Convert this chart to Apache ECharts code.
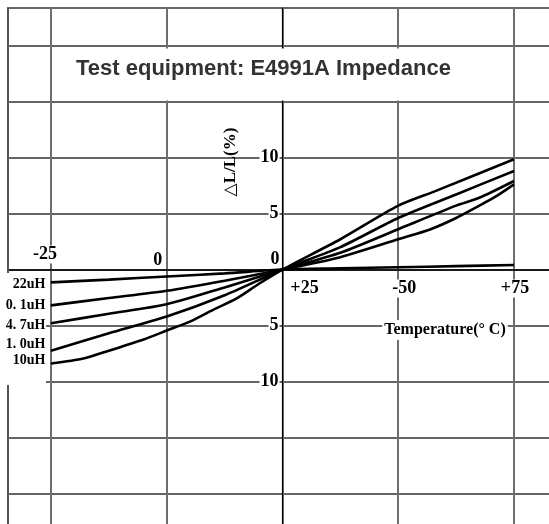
<!DOCTYPE html>
<html><head><meta charset="utf-8">
<script src="https://cdn.jsdelivr.net/npm/echarts@6/dist/echarts.min.js"></script>
<style>html,body{margin:0;padding:0;background:#fff}#c{width:549px;height:524px}</style>
</head><body><div id="c"></div>
<script>
// ---------- data ----------
const seriesNames = ['22uH', '0. 1uH', '4. 7uH', '1. 0uH', '10uH'];
const temps22uH  = [-25, -12.5, 0, 12.5, 25, 37.5, 50, 62.5, 75];
const values22uH = [-1.15, -0.9, -0.62, -0.35, 0, 0.1, 0.2, 0.3, 0.4];
const temps01uH  = [-25, -12.5, 0, 12.5, 25, 37.5, 50, 57, 62.5, 67.5, 71, 75];
const values01uH = [-3.2, -2.55, -1.9, -1.0, 0, 1.1, 2.7, 3.6, 4.6, 5.7, 6.5, 7.6];
const temps47uH  = [-25, -12.5, 0, 12.5, 25, 37.5, 50, 62.5, 67.5, 75];
const values47uH = [-4.8, -3.95, -3.1, -1.6, 0, 1.5, 3.6, 5.7, 6.4, 7.9];
const temps10uH1  = [-25, -12.5, 0, 12.5, 25, 37.5, 50, 62.5, 75];
const values10uH1 = [-7.25, -5.7, -4.2, -2.3, 0, 2.0, 4.6, 6.7, 8.8];
const temps10uH  = [-25, -18, -12.5, -5, 0, 5, 10, 15, 20, 25, 37.5, 50, 58, 75];
const values10uH = [-8.4, -7.95, -7.25, -6.25, -5.45, -4.65, -3.6, -2.6, -1.25, 0, 2.7, 5.7, 7.0, 9.85];
const xTickValues = [-25, 0, 25, 50, 75];
const xTickTexts  = ['-25', '0', '+25', '-50', '+75'];
const yTickValues = [10, 5, 0, -5, -10];
const yTickTexts  = ['10', '5', '0', '5', '10'];
const titleText = 'Test equipment: E4991A Impedance';
const yName = '△L/L(%)';
const xName = 'Temperature(° C)';

// ---------- layout / style ----------
const curveTemps  = [temps22uH, temps01uH, temps47uH, temps10uH1, temps10uH];
const curveValues = [values22uH, values01uH, values47uH, values10uH1, values10uH];
const nameLabelOffsets = [[0, 2], [0, 0], [0, 2], [0, -6], [0, -3]];
const xLabelShift = { '-25': [-6, -15, true], '0': [-9, -9, false], '25': [22, 19, false], '50': [6, 19, true], '75': [1, 19, true] };
const yLabelShift = { '0': [4, -10, false] };
const SERIF = "'Liberation Serif', 'DejaVu Serif', serif";
const labelFont = { fontFamily: SERIF, fontWeight: 'bold', fontSize: 18, color: '#000', lineHeight: 18 };

const rich = {
  t: Object.assign({ backgroundColor: '#fff', padding: [0, 1] }, labelFont),
  n: Object.assign({}, labelFont)
};
function spacerW(n) { const k = 'w' + n; if (!rich[k]) rich[k] = { width: n, height: 1, lineHeight: 1, fontSize: 1 }; return k; }
function spacerH(n) { const k = 'h' + n; if (!rich[k]) rich[k] = { width: 1, height: n, lineHeight: n, fontSize: 1 }; return k; }
function shifted(text, dx, dy, bg) {
  const st = bg ? 't' : 'n';
  let line = (dx > 0 ? '{' + spacerW(2 * dx) + '| }' : '') + '{' + st + '|' + text + '}' + (dx < 0 ? '{' + spacerW(-2 * dx) + '| }' : '');
  if (dy < 0) return line + '\n{' + spacerH(-2 * dy) + '| }';
  if (dy > 0) return '{' + spacerH(2 * dy) + '| }\n' + line;
  return line;
}
xTickValues.forEach((v) => { const s = xLabelShift[String(v)]; shifted('', s[0], s[1], s[2]); });
Object.keys(yLabelShift).forEach((k) => { const s = yLabelShift[k]; shifted('', s[0], s[1], s[2]); });

const chart = echarts.init(document.getElementById('c'), null, { renderer: 'canvas' });

const series = seriesNames.map((name, i) => {
  const data = curveTemps[i].map((t, j) => {
    if (j === 0) {
      return {
        value: [t, curveValues[i][j]],
        symbol: 'circle', symbolSize: 1,
        label: {
          show: true, position: 'left', distance: 5, formatter: name,
          offset: nameLabelOffsets[i],
          fontFamily: SERIF, fontWeight: 'bold', fontSize: 14, color: '#000'
        }
      };
    }
    return [t, curveValues[i][j]];
  });
  return {
    name: name, type: 'line', xAxisIndex: 0, yAxisIndex: 0, z: 2,
    symbol: 'none', smooth: 0.25, animation: false,
    lineStyle: { color: '#000', width: 2.6 },
    itemStyle: { color: '#000' },
    data: data
  };
});

const xScale = { type: 'value', min: -50, max: 83, interval: 25 };
const yScale = { type: 'value', min: -25, max: 23.348, interval: 5 };

const option = {
  backgroundColor: '#fff',
  animation: false,
  grid: { left: -64.75, right: -2.04, top: 8, bottom: -25.5, containLabel: false, outerBoundsMode: 'none' },
  xAxis: [
    Object.assign({ position: 'bottom', z: 0, axisLine: { show: false, onZero: false }, axisTick: { show: false }, axisLabel: { show: false },
      splitLine: { show: true, lineStyle: { color: '#6e6e6e', width: 2 } } }, xScale),
    Object.assign({ position: 'bottom', z: 3, offset: -280,
      axisLine: { show: true, onZero: false, lineStyle: { color: '#000', width: 1.5 } },
      axisTick: { show: false }, splitLine: { show: false },
      axisLabel: {
        show: true, margin: 0, align: 'center', verticalAlign: 'middle', showMinLabel: true, showMaxLabel: true,
        formatter: function (v) {
          const idx = xTickValues.indexOf(v);
          if (idx < 0) return '';
          const s = xLabelShift[String(v)];
          return shifted(xTickTexts[idx], s[0], s[1], s[2]);
        },
        rich: rich
      } }, xScale)
  ],
  yAxis: [
    Object.assign({ position: 'left', z: 0, axisLine: { show: false, onZero: false }, axisTick: { show: false }, axisLabel: { show: false },
      splitLine: { show: true, lineStyle: { color: '#333', width: 1.5 } } }, yScale),
    Object.assign({ position: 'left', z: 3, offset: -347.25,
      axisLine: { show: true, onZero: false, lineStyle: { color: '#000', width: 1.2 } },
      axisTick: { show: false }, splitLine: { show: false },
      axisLabel: {
        show: true, margin: 3,
        formatter: function (v) {
          const idx = yTickValues.indexOf(v);
          if (idx < 0) return '';
          const s = yLabelShift[String(v)];
          if (s) return shifted(yTickTexts[idx], s[0], s[1], s[2]);
          return '{t|' + yTickTexts[idx] + '}';
        },
        rich: rich
      } }, yScale)
  ],
  graphic: [
    { type: 'rect', z: 5, shape: { x: 0, y: 0, width: 7, height: 273 }, style: { fill: '#fff' } },
    { type: 'rect', z: 5, shape: { x: 0, y: 384, width: 7, height: 140 }, style: { fill: '#fff' } },
    { type: 'rect', z: 1, shape: { x: 0, y: 274, width: 46, height: 110 }, style: { fill: '#fff' } },
    { type: 'line', z: 5, shape: { x1: 8, y1: 8, x2: 8, y2: 273 }, style: { stroke: '#555', lineWidth: 2 } },
    { type: 'line', z: 5, shape: { x1: 8, y1: 385, x2: 8, y2: 524 }, style: { stroke: '#555', lineWidth: 2 } },
    { type: 'rect', z: 4, shape: { x: 52, y: 48.5, width: 461, height: 52 }, style: { fill: '#fff' } },
    { type: 'text', z: 6, x: 76, y: 69, style: { text: titleText, fill: '#333', font: "bold 22px 'Liberation Sans', Arial, sans-serif", textVerticalAlign: 'middle', textAlign: 'left' } },
    { type: 'text', z: 6, x: 231, y: 162, rotation: Math.PI / 2, style: { text: yName, fill: '#000', font: "bold 17px " + SERIF, textVerticalAlign: 'middle', textAlign: 'center' } },
    { type: 'text', z: 6, x: 445, y: 330, style: { text: xName, fill: '#000', font: "bold 16px " + SERIF, textVerticalAlign: 'middle', textAlign: 'center', backgroundColor: '#fff', padding: [2, 2] } }
  ],
  series: series
};
chart.setOption(option);
</script>
</body></html>
